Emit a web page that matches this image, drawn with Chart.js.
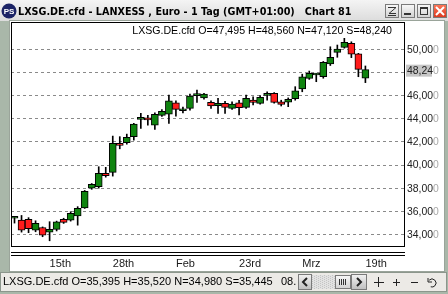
<!DOCTYPE html>
<html>
<head>
<meta charset="utf-8">
<script src="https://cdn.jsdelivr.net/npm/chart.js@4.4.1/dist/chart.umd.min.js"></script>
<style>
  html, body { margin: 0; padding: 0; overflow: hidden; background: #a9b7a9; }
  #wrap { position: relative; width: 448px; height: 294px; }
</style>
</head>
<body>
<div id="wrap"><canvas id="chart" width="448" height="294"></canvas></div>
<script>
// daily candles
const opens  = [35.395,35.24,35.30,34.37,34.60,34.20,34.43,35.30,35.24,35.61,36.30,38.00,38.12,39.27,39.36,41.87,41.92,42.44,43.95,44.08,43.45,44.29,44.40,45.38,44.69,44.90,46.00,45.79,45.42,45.12,45.33,44.90,45.38,44.98,45.61,45.33,46.02,46.20,45.47,45.44,45.73,46.57,47.49,47.78,47.63,48.73,49.74,50.17,50.52,49.60,47.495];
const highs  = [35.52,35.64,35.45,35.18,34.65,35.10,35.15,35.40,35.96,36.40,37.80,38.40,39.85,39.80,42.50,42.45,42.67,43.60,44.46,44.30,44.50,44.80,46.05,45.55,45.00,46.13,46.48,46.20,45.55,45.76,45.50,45.45,45.60,46.05,45.90,46.00,46.33,46.25,45.60,45.80,46.77,47.85,48.12,47.90,48.95,50.22,50.37,50.95,50.65,49.65,48.56];
const lows   = [34.98,34.20,34.15,34.23,33.80,33.45,34.30,34.95,35.15,34.80,36.25,37.90,38.00,38.95,39.04,41.40,41.80,42.15,43.17,43.45,43.08,44.20,43.60,44.23,44.50,44.75,45.42,45.70,44.90,44.46,44.46,44.80,44.32,44.90,45.20,45.25,45.60,45.35,45.10,45.04,45.60,46.33,47.40,47.20,47.50,48.60,49.31,50.10,49.28,47.63,47.12];
const closes = [35.445,34.37,34.50,34.95,33.94,34.43,35.09,35.04,35.82,36.25,37.72,38.32,39.27,39.07,41.87,41.70,42.39,43.54,44.08,43.89,44.38,44.64,45.55,44.81,44.86,45.96,46.05,46.13,45.10,45.33,44.98,45.27,44.95,45.76,45.42,45.85,46.05,45.42,45.24,45.67,46.42,47.63,47.92,47.80,48.88,49.31,50.03,50.60,49.57,48.27,48.24];
const emptySlots = 5;                       // free room right of the last candle
const tickIdx  = [5, 14, 23, 32, 41, 50];
const tickText = ['15th', '28th', 'Feb', '23rd', 'Mrz', '19th'];
const yTicks = [34, 36, 38, 40, 42, 44, 46, 48, 50];
const yMin = 33.0, yMax = 52.36;
const symbol = 'LXSG.DE.cfd';
const title = 'LXSG.DE.cfd - LANXESS , Euro - 1 Tag (GMT+01:00)   Chart 81';
const firstDate = '08.';

const n = opens.length;
const labels = [];
for (let i = 0; i < n + emptySlots; i++) labels.push(String(i));
const bodies = opens.map((o, i) => [o, closes[i]]);
const wicks = lows.map((l, i) => [l, highs[i]]);
const bodyColors = opens.map((o, i) => closes[i] >= o ? '#0f840f' : '#ff1c1c');

const SANS = '"Liberation Sans", Arial, sans-serif';
const fmt = v => v.toFixed(3).replace('.', ',');
const ohlc = i => `${symbol} O=${fmt(opens[i])} H=${fmt(highs[i])} N=${fmt(lows[i])} S=${fmt(closes[i])}`;

function fitFont(ctx, text, weight, family, width) {
  ctx.font = `${weight} 20px ${family}`;
  const size = 20 * width / ctx.measureText(text).width;
  ctx.font = `${weight} ${size}px ${family}`;
}

function twoTone(ctx, text, x, y) {
  const head = text.slice(0, -1), tail = text.slice(-1);
  ctx.textAlign = 'left';
  ctx.fillStyle = '#202020';
  ctx.fillText(head, x, y);
  ctx.fillStyle = '#a8a8a8';
  ctx.fillText(tail, x + ctx.measureText(head).width, y);
}

function button(ctx, x, y, w, h, fill) {
  const g = ctx.createLinearGradient(0, y, 0, y + h);
  g.addColorStop(0, fill[0]); g.addColorStop(1, fill[1]);
  ctx.fillStyle = g;
  ctx.fillRect(x, y, w, h);
  ctx.strokeStyle = '#7a7a7a';
  ctx.lineWidth = 1;
  ctx.strokeRect(x + 0.5, y + 0.5, w - 1, h - 1);
}

const chrome = {
  id: 'chrome',
  beforeDraw(chart) {
    const ctx = chart.ctx;
    ctx.save();
    ctx.fillStyle = '#a9b7a9';
    ctx.fillRect(0, 0, 448, 294);
    // title bar
    const tg = ctx.createLinearGradient(0, 0, 0, 21);
    tg.addColorStop(0, '#f4f4f4'); tg.addColorStop(1, '#dcdcdc');
    ctx.fillStyle = tg;
    ctx.fillRect(0, 0, 448, 21);
    ctx.fillStyle = '#1c2466';
    ctx.beginPath(); ctx.arc(9, 11, 7.5, 0, Math.PI * 2); ctx.fill();
    ctx.fillStyle = '#fff';
    ctx.font = `bold 8px ${SANS}`;
    ctx.textAlign = 'center'; ctx.textBaseline = 'middle';
    ctx.fillText('PS', 9, 11.5);
    fitFont(ctx, title, 'bold', '"DejaVu Sans", sans-serif', 334);
    ctx.textAlign = 'left';
    ctx.fillStyle = '#000';
    ctx.fillText(title, 18, 12);
    // window buttons
    button(ctx, 385, 4, 14, 14, ['#fafafa', '#cfcfcf']);
    button(ctx, 401, 4, 14, 14, ['#fafafa', '#cfcfcf']);
    button(ctx, 417, 4, 14, 14, ['#fafafa', '#cfcfcf']);
    button(ctx, 433, 4, 14, 14, ['#ff7a5c', '#d9361c']);
    ctx.strokeStyle = '#333'; ctx.lineWidth = 1;
    ctx.beginPath();
    ctx.moveTo(388, 7.5); ctx.lineTo(396, 7.5); ctx.lineTo(389, 13.5); ctx.lineTo(396, 13.5);
    ctx.moveTo(388, 15.5); ctx.lineTo(396, 15.5);
    ctx.stroke();
    ctx.fillStyle = '#333';
    ctx.fillRect(404, 13, 7, 2);
    ctx.strokeRect(420.5, 7.5, 7, 7);
    ctx.fillRect(420, 7, 8, 2);
    ctx.strokeStyle = '#fff'; ctx.lineWidth = 2;
    ctx.beginPath();
    ctx.moveTo(436, 7); ctx.lineTo(444, 15); ctx.moveTo(444, 7); ctx.lineTo(436, 15);
    ctx.stroke();
    // white chart panel
    ctx.fillStyle = '#fff';
    ctx.fillRect(10, 21, 434, 250);
    ctx.strokeStyle = '#9aa49a'; ctx.lineWidth = 1;
    ctx.strokeRect(9.5, 20.5, 435, 251);
    // status bar
    ctx.fillStyle = '#eceae6';
    ctx.fillRect(0, 272, 447, 20);
    ctx.strokeStyle = '#8c968c';
    ctx.strokeRect(0.5, 272.5, 446, 19);
    ctx.font = `11px ${SANS}`;
    ctx.textBaseline = 'middle';
    ctx.fillStyle = '#000';
    ctx.textAlign = 'left';
    ctx.fillText(ohlc(0), 3, 282);
    ctx.fillText(firstDate, 281, 282);
    button(ctx, 298, 274, 14, 16, ['#f4f4f4', '#bdbdbd']);
    ctx.fillStyle = '#e2e2e2';
    ctx.fillRect(312, 275, 23, 14);
    ctx.fillStyle = '#c4c4c4';
    for (let x = 312; x < 335; x += 2) for (let y = 275 + (x % 4 ? 1 : 0); y < 289; y += 2) ctx.fillRect(x, y, 1, 1);
    button(ctx, 335, 275, 16, 14, ['#fafafa', '#d0d0d0']);
    button(ctx, 351, 274, 16, 16, ['#f4f4f4', '#bdbdbd']);
    ctx.fillStyle = '#333';
    for (let k = 0; k < 4; k++) ctx.fillRect(339 + k * 2, 279, 1, 6);
    ctx.strokeStyle = '#222'; ctx.lineWidth = 2;
    ctx.beginPath();
    ctx.moveTo(307, 278); ctx.lineTo(303, 282); ctx.lineTo(307, 286);
    ctx.moveTo(357, 278); ctx.lineTo(361, 282); ctx.lineTo(357, 286);
    ctx.stroke();
    ctx.lineWidth = 1;
    ctx.strokeStyle = '#222';
    ctx.beginPath();
    ctx.moveTo(378.5, 277); ctx.lineTo(378.5, 287); ctx.moveTo(374, 282.5); ctx.lineTo(384, 282.5);
    ctx.moveTo(393, 282.5); ctx.lineTo(400, 282.5); ctx.moveTo(396.5, 279); ctx.lineTo(396.5, 286);
    ctx.moveTo(411, 282.5); ctx.lineTo(418, 282.5);
    ctx.stroke();
    ctx.beginPath();
    ctx.arc(432, 283, 4, Math.PI * 1.25, Math.PI * 0.6);
    ctx.moveTo(428, 278); ctx.lineTo(428, 282); ctx.lineTo(432, 282);
    ctx.stroke();
    ctx.restore();
  },
  afterDraw(chart) {
    const ctx = chart.ctx;
    const a = chart.chartArea;
    const y = chart.scales.y;
    ctx.save();
    ctx.strokeStyle = '#000'; ctx.lineWidth = 1;
    ctx.strokeRect(a.left + 0.5, a.top + 0.5, a.right - a.left, a.bottom - a.top);
    ctx.beginPath();
    ctx.moveTo(a.left, a.bottom + 6.5); ctx.lineTo(a.right + 1, a.bottom + 6.5);
    ctx.moveTo(a.left, a.bottom + 9.5); ctx.lineTo(a.right + 1, a.bottom + 9.5);
    ctx.stroke();
    // header quote, last candle
    ctx.fillStyle = '#000';
    ctx.textBaseline = 'middle';
    ctx.textAlign = 'right';
    const head = ohlc(n - 1);
    fitFont(ctx, head, 'normal', SANS, 260);
    ctx.fillText(head, 392, a.top + 9);
    // price labels
    ctx.font = `10.4px ${SANS}`;
    const last = closes[n - 1];
    const py = y.getPixelForValue(last);
    yTicks.forEach(v => {
      const p = y.getPixelForValue(v);
      if (Math.abs(p - py) < 9) return;
      twoTone(ctx, fmt(v), a.right + 3, p + 0.5);
    });
    ctx.fillStyle = '#c6c6c6';
    ctx.fillRect(a.right + 2, py - 5, 26, 12);
    twoTone(ctx, fmt(last), a.right + 3, py + 1.5);
    ctx.restore();
  }
};

new Chart(document.getElementById('chart'), {
  type: 'bar',
  data: {
    labels: labels,
    datasets: [
      { data: wicks, backgroundColor: '#000', barThickness: 1, grouped: false, order: 2 },
      { data: bodies, backgroundColor: bodyColors, borderColor: '#000', borderWidth: 1,
        borderSkipped: false, barThickness: 7, minBarLength: 2, grouped: false, order: 1 }
    ]
  },
  options: {
    responsive: false,
    animation: false,
    events: [],
    layout: { padding: { left: 11, top: 22, right: 8, bottom: 24 } },
    plugins: { legend: { display: false }, tooltip: { enabled: false } },
    scales: {
      x: {
        offset: true,
        grid: { display: false, drawTicks: false },
        border: { display: false },
        ticks: {
          autoSkip: false, maxRotation: 0, align: 'start', padding: 11,
          color: '#1a1a1a', font: { family: SANS, size: 11 },
          callback: (v, i) => { const k = tickIdx.indexOf(i); return k < 0 ? '' : tickText[k]; }
        },
        afterFit: s => { s.height = 24; }
      },
      y: {
        position: 'right', min: yMin, max: yMax,
        afterBuildTicks: s => { s.ticks = yTicks.map(v => ({ value: v })); },
        grid: { color: '#8a8a8a', drawTicks: false },
        border: { display: false, dash: [3, 3] },
        ticks: { display: false },
        afterFit: s => { s.width = 36; }
      }
    }
  },
  plugins: [chrome]
});
</script>
</body>
</html>
